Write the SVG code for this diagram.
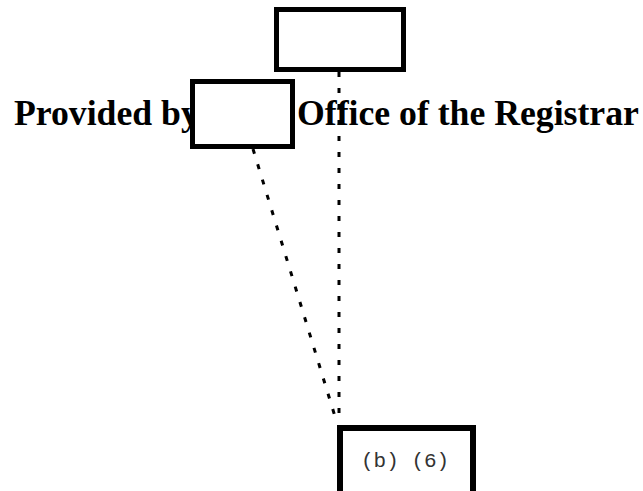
<svg xmlns="http://www.w3.org/2000/svg" width="643" height="491" viewBox="0 0 643 491">
<style>
.box{fill:#fff;stroke:#000;stroke-width:5}
.lbl{font-family:"Liberation Serif","Times New Roman",serif;font-weight:bold;font-size:35.7px;fill:#000}
.mono{font-family:"Liberation Mono","Courier New",monospace;font-size:21px;fill:#333}
.conn{stroke:#000;stroke-width:3;stroke-dasharray:5 11;fill:none}
</style>
<rect width="643" height="491" fill="#fff"/>
<text class="lbl" x="14" y="125">Provided by</text>
<text class="lbl" x="297" y="125">Office of the Registrar</text>
<g id="connectors">
<line class="conn" x1="339" y1="72" x2="339" y2="424"/>
<line class="conn" x1="253" y1="149" x2="337" y2="423"/>
</g>
<g id="node-top">
<rect class="box" x="276.5" y="9.5" width="127" height="60"/>
</g>
<g id="node-left">
<rect class="box" x="192.5" y="81.5" width="100" height="65"/>
</g>
<g id="node-bottom">
<rect class="box" x="340" y="428" width="133" height="80" style="stroke-width:6"/>
<text class="mono" x="361" y="467">(b) (6)</text>
</g>
</svg>
